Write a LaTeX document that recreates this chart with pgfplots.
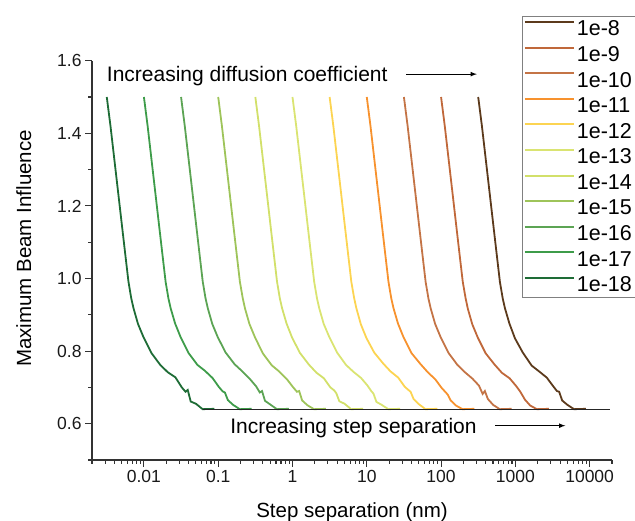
\documentclass[border=0pt]{standalone}
\usepackage{fontspec}
\setmainfont{Liberation Sans}
\usepackage{pgfplots}
\pgfplotsset{compat=1.18}
\definecolor{c8}{HTML}{5C3A1C}
\definecolor{c9}{HTML}{C0683A}
\definecolor{c10}{HTML}{C47446}
\definecolor{c11}{HTML}{F7922E}
\definecolor{c12}{HTML}{FCD452}
\definecolor{c13}{HTML}{DAE472}
\definecolor{c14}{HTML}{D2E06A}
\definecolor{c15}{HTML}{9EC45A}
\definecolor{c16}{HTML}{5CA454}
\definecolor{c17}{HTML}{3E9C4A}
\definecolor{c18}{HTML}{1E6C36}
\begin{document}
\begin{tikzpicture}
\begin{axis}[
  name=ax,
  scale only axis, width=520pt, height=399.3pt,
  xmode=log, xmin=0.002, xmax=20000, ymin=0.5, ymax=1.6,
  axis lines*=left,
  axis line style={line width=1.2pt, black!80},
  tick align=outside, major tick length=7pt, minor tick length=4pt,
  every tick/.style={line width=1.1pt, black!80},
  xtick={0.01,0.1,1,10,100,1000,10000},
  xticklabels={0.01,0.1,1,10,100,1000,10000},
  minor xtick={0.002,0.003,0.004,0.005,0.006,0.007,0.008,0.009,
    0.02,0.03,0.04,0.05,0.06,0.07,0.08,0.09,
    0.2,0.3,0.4,0.5,0.6,0.7,0.8,0.9,
    2,3,4,5,6,7,8,9,20,30,40,50,60,70,80,90,
    200,300,400,500,600,700,800,900,2000,3000,4000,5000,6000,7000,8000,9000,20000},
  ytick={0.6,0.8,1.0,1.2,1.4,1.6},
  yticklabels={0.6,0.8,1.0,1.2,1.4,1.6},
  minor ytick={0.5,0.7,0.9,1.1,1.3,1.5},
  /pgf/number format/assume math mode=true,
  tick label style={font=\fontsize{17.5}{20}\selectfont, black!90},
  xlabel={Step separation (nm)},
  ylabel={Maximum Beam Influence},
  every axis x label/.style={at={(rel axis cs:0.5,-0.1428)}, anchor=base, font=\fontsize{20.5}{24}\selectfont},
  every axis y label/.style={at={(rel axis cs:-0.1173,0.5297)}, rotate=90, anchor=base, font=\fontsize{20.5}{24}\selectfont},
  legend cell align=left,
  legend image code/.code={\draw[#1, line width=2pt] (0pt,7pt) -- (49pt,7pt);},
  legend style={at={(rel axis cs:0.826,1.1127)}, anchor=north west,
    draw=gray, line width=0.8pt, fill=white,
    font=\fontsize{21.5}{24}\selectfont, inner xsep=2pt, inner ysep=2.5pt,
    row sep=5.2pt, /tikz/every even column/.append style={column sep=6pt}},
  clip=false,
]
\addplot[c8, line width=1.8pt] coordinates {(3.162e2,1.5)(3.548e2,1.42)(4.092e2,1.31)(4.569e2,1.225)(5.047e2,1.148)(5.622e2,1.065)(6.194e2,0.991)(6.760e2,0.945)(7.244e2,0.918)(8.316e2,0.876)(9.885e2,0.835)(1.259e3,0.796)(1.659e3,0.760)(2.089e3,0.744)(2.648e3,0.727)(3.235e3,0.703)(3.630e3,0.690)(3.889e3,0.688)(4.266e3,0.664)(5.012e3,0.652)(6.166e3,0.640)(8.910e3,0.641)};
\addlegendentry{1e-8}
\addplot[c9, line width=1.8pt] coordinates {(1e2,1.5)(1.122e2,1.42)(1.294e2,1.31)(1.445e2,1.225)(1.596e2,1.148)(1.778e2,1.065)(1.959e2,0.991)(2.138e2,0.946)(2.291e2,0.917)(2.630e2,0.874)(3.126e2,0.837)(3.981e2,0.794)(5.248e2,0.763)(6.607e2,0.740)(8.375e2,0.725)(1.023e3,0.704)(1.148e3,0.690)(1.230e3,0.680)(1.349e3,0.666)(1.585e3,0.650)(1.950e3,0.640)(2.818e3,0.641)};
\addlegendentry{1e-9}
\addplot[c10, line width=1.8pt] coordinates {(3.162e1,1.5)(3.548e1,1.42)(4.092e1,1.31)(4.569e1,1.225)(5.047e1,1.148)(5.622e1,1.065)(6.194e1,0.991)(6.760e1,0.945)(7.244e1,0.918)(8.316e1,0.875)(9.885e1,0.838)(1.259e2,0.795)(1.659e2,0.762)(2.089e2,0.742)(2.648e2,0.724)(3.235e2,0.705)(3.630e2,0.682)(3.889e2,0.690)(4.266e2,0.668)(5.012e2,0.652)(6.166e2,0.640)(8.910e2,0.641)};
\addlegendentry{1e-10}
\addplot[c11, line width=1.8pt] coordinates {(1e1,1.5)(1.122e1,1.42)(1.294e1,1.31)(1.445e1,1.225)(1.596e1,1.148)(1.778e1,1.065)(1.959e1,0.991)(2.138e1,0.945)(2.291e1,0.918)(2.630e1,0.876)(3.126e1,0.838)(3.981e1,0.795)(5.248e1,0.765)(6.607e1,0.742)(8.375e1,0.722)(1.023e2,0.698)(1.148e2,0.687)(1.230e2,0.680)(1.349e2,0.664)(1.585e2,0.650)(1.950e2,0.640)(2.818e2,0.641)};
\addlegendentry{1e-11}
\addplot[c12, line width=1.8pt] coordinates {(3.162,1.5)(3.548,1.42)(4.092,1.31)(4.569,1.225)(5.047,1.148)(5.622,1.065)(6.194,0.991)(6.760,0.946)(7.244,0.918)(8.316,0.874)(9.885,0.836)(12.59,0.796)(16.59,0.766)(20.89,0.744)(26.48,0.727)(32.35,0.702)(36.30,0.693)(38.89,0.688)(42.66,0.668)(50.12,0.654)(61.66,0.640)(89.10,0.641)};
\addlegendentry{1e-12}
\addplot[c13, line width=1.8pt] coordinates {(1,1.5)(1.122,1.42)(1.294,1.31)(1.445,1.225)(1.596,1.148)(1.778,1.065)(1.959,0.991)(2.138,0.945)(2.291,0.918)(2.630,0.875)(3.126,0.839)(3.981,0.796)(5.248,0.762)(6.607,0.743)(8.375,0.726)(10.23,0.705)(11.48,0.690)(12.30,0.683)(13.49,0.660)(15.85,0.652)(19.50,0.640)(28.18,0.641)};
\addlegendentry{1e-13}
\addplot[c14, line width=1.8pt] coordinates {(0.3162,1.5)(0.3548,1.42)(0.4092,1.31)(0.4569,1.225)(0.5047,1.148)(0.5622,1.065)(0.6194,0.991)(0.6760,0.945)(0.7244,0.918)(0.8316,0.876)(0.9885,0.837)(1.259,0.795)(1.659,0.763)(2.089,0.741)(2.648,0.725)(3.235,0.700)(3.630,0.692)(3.889,0.684)(4.266,0.662)(5.012,0.655)(6.166,0.640)(8.910,0.641)};
\addlegendentry{1e-14}
\addplot[c15, line width=1.8pt] coordinates {(0.1,1.5)(0.1122,1.42)(0.1294,1.31)(0.1445,1.225)(0.1596,1.148)(0.1778,1.065)(0.1959,0.991)(0.2138,0.946)(0.2291,0.918)(0.2630,0.875)(0.3126,0.838)(0.3981,0.794)(0.5248,0.761)(0.6607,0.744)(0.8375,0.723)(1.023,0.700)(1.148,0.688)(1.230,0.690)(1.349,0.664)(1.585,0.651)(1.950,0.640)(2.818,0.641)};
\addlegendentry{1e-15}
\addplot[c16, line width=1.8pt] coordinates {(0.03162,1.5)(0.03548,1.42)(0.04092,1.31)(0.04569,1.225)(0.05047,1.148)(0.05622,1.065)(0.06194,0.991)(0.06760,0.945)(0.07244,0.918)(0.08316,0.875)(0.09885,0.838)(0.1259,0.796)(0.1659,0.764)(0.2089,0.745)(0.2648,0.724)(0.3235,0.703)(0.3630,0.686)(0.3889,0.690)(0.4266,0.663)(0.5012,0.653)(0.6166,0.640)(0.8910,0.641)};
\addlegendentry{1e-16}
\addplot[c17, line width=1.8pt] coordinates {(0.01,1.5)(0.01122,1.42)(0.01294,1.31)(0.01445,1.225)(0.01596,1.148)(0.01778,1.065)(0.01959,0.991)(0.02138,0.945)(0.02291,0.918)(0.02630,0.876)(0.03126,0.838)(0.03981,0.795)(0.05248,0.762)(0.06607,0.746)(0.08375,0.726)(0.1023,0.701)(0.1148,0.689)(0.1230,0.686)(0.1349,0.665)(0.1585,0.652)(0.1950,0.640)(0.2818,0.641)};
\addlegendentry{1e-17}
\addplot[c18, line width=1.8pt] coordinates {(0.003162,1.5)(0.003548,1.42)(0.004092,1.31)(0.004569,1.225)(0.005047,1.148)(0.005622,1.065)(0.006194,0.991)(0.006760,0.945)(0.007244,0.918)(0.008316,0.875)(0.009885,0.838)(0.01259,0.795)(0.01659,0.762)(0.02089,0.742)(0.02648,0.728)(0.03235,0.700)(0.03630,0.688)(0.03889,0.693)(0.04266,0.661)(0.05012,0.655)(0.06166,0.640)(0.08910,0.641)};
\addlegendentry{1e-18}
\addplot[black!85, line width=1.1pt, forget plot] coordinates {(0.063,0.64)(18600,0.64)};
\node[anchor=base west, inner sep=0pt, font=\fontsize{21}{25}\selectfont] at (axis cs:0.00316,1.544) {Increasing diffusion coefficient};
\draw[-latex, line width=1.1pt] (axis cs:34,1.563) -- (axis cs:303,1.563);
\node[anchor=base west, inner sep=0pt, font=\fontsize{21}{25}\selectfont] at (axis cs:0.1445,0.5735) {Increasing step separation};
\draw[-latex, line width=1.1pt] (axis cs:535,0.5945) -- (axis cs:4700,0.5945);
\end{axis}
\pgfresetboundingbox
\path[use as bounding box] ([shift={(-92pt,-61pt)}]ax.south west) rectangle ([shift={(23pt,60.7pt)}]ax.north east);
\end{tikzpicture}
\end{document}
